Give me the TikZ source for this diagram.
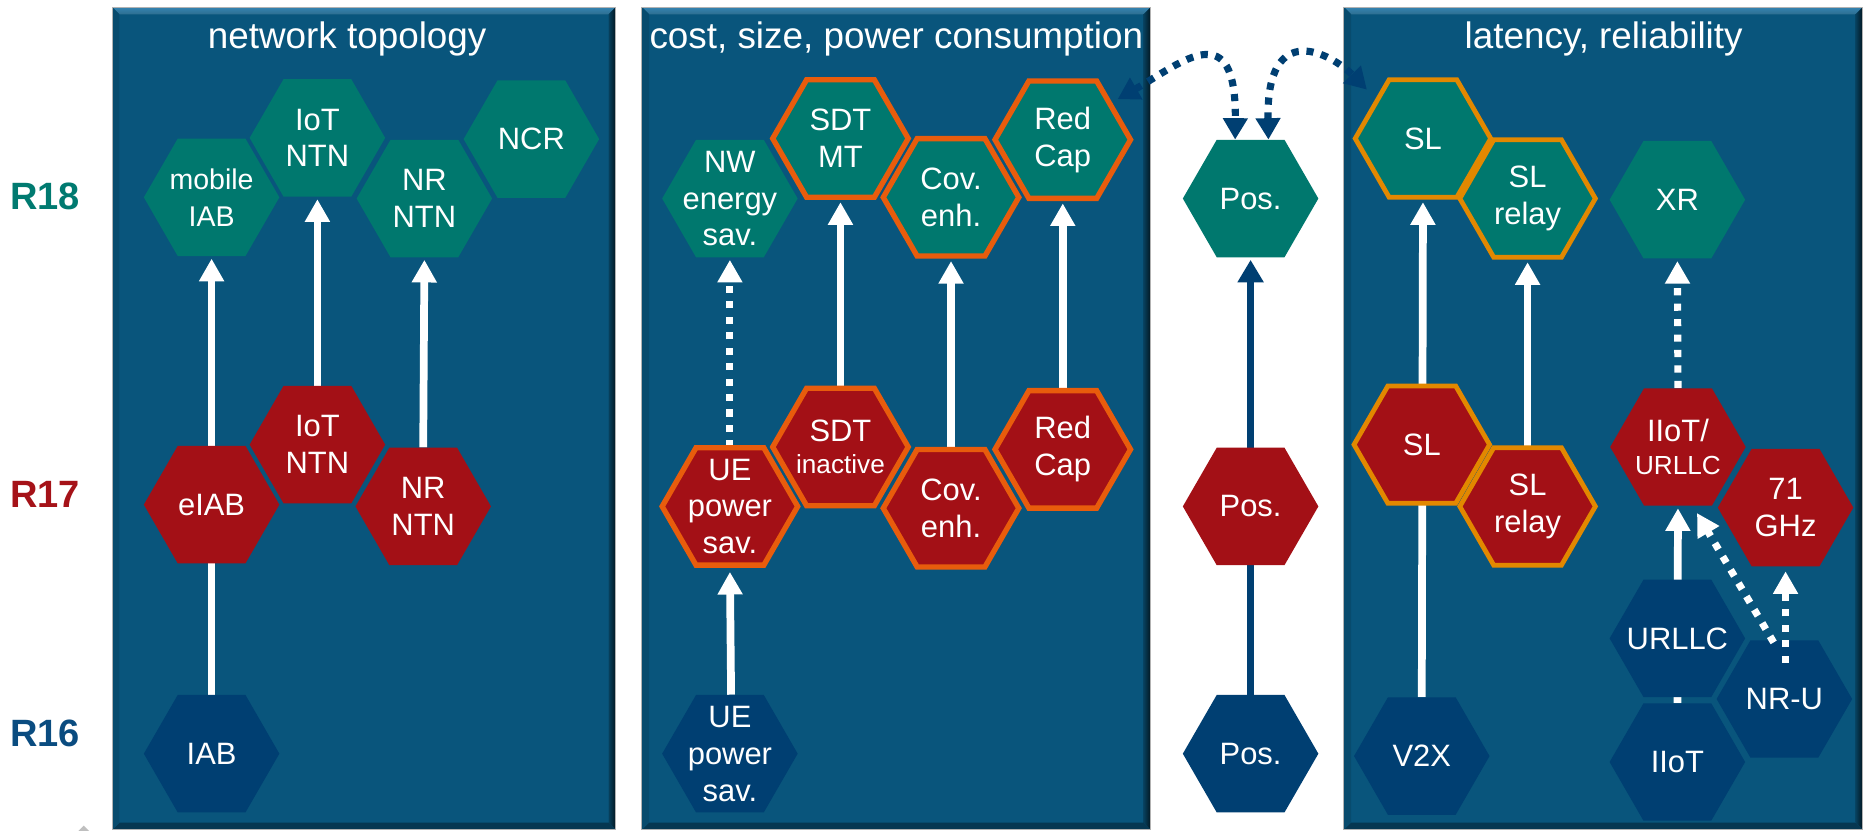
\documentclass[tikz,border=0pt]{standalone}
\usepackage{fontspec}
\setmainfont{Liberation Sans}
\usetikzlibrary{arrows.meta,calc}
\pgfdeclarelayer{panels}
\pgfdeclarelayer{links}
\pgfdeclarelayer{hexes}
\pgfsetlayers{panels,links,hexes,main}

\definecolor{panelblue}{RGB}{9,85,124}
\definecolor{panelhi}{RGB}{52,132,178}
\definecolor{hexteal}{RGB}{0,120,110}
\definecolor{hexred}{RGB}{163,16,22}
\definecolor{hexblue}{RGB}{0,63,114}
\definecolor{rimorange}{RGB}{232,92,12}
\definecolor{rimamber}{RGB}{226,136,0}
\definecolor{labteal}{RGB}{0,122,112}
\definecolor{labred}{RGB}{165,18,24}
\definecolor{labblue}{RGB}{10,76,128}

\tikzset{
  hexbox/.style={rectangle, minimum width=114pt, minimum height=98.8pt, inner sep=0pt,
    text=white, align=center, font=\fontsize{26}{31}\selectfont},
  r18/.style={fill=hexteal},
  r17/.style={fill=hexred},
  r16/.style={fill=hexblue},
  orim/.style={draw=rimorange, line width=4.5pt},
  arim/.style={draw=rimamber, line width=4pt},
  wline/.style={draw=white, line width=6.5pt, -{Triangle[width=20pt,length=19pt]}},
  wdots/.style={draw=white, line width=6pt, dash pattern=on 6pt off 7pt,
    -{Triangle[width=20pt,length=19pt]}},
  bline/.style={draw=hexblue, line width=5.5pt, -{Triangle[width=21pt,length=19pt]}},
  bdots/.style={draw=hexblue, line width=6pt, dash pattern=on 6pt off 6.5pt,
    {Triangle[width=20pt,length=18pt]}-{Triangle[width=20pt,length=18pt]}},
  ptitle/.style={text=white, anchor=base, font=\fontsize{31}{36}\selectfont},
  rlabel/.style={font=\bfseries\fontsize{32}{38}\selectfont},
}

% bevelled panel: x0 y0 x1 y1
\newcommand\panelbox[4]{%
  \fill[panelblue] (#1,#2) rectangle (#3,#4);
  \shade[top color=panelhi, bottom color=panelblue!85!white]
    (#1,#2) -- (#3,#2) -- (#3-6,#2+6) -- (#1+6,#2+6) -- cycle;
  \shade[left color=panelblue!75!black, right color=panelblue!25!black]
    (#3,#2) -- (#3,#4) -- (#3-6,#4-6) -- (#3-6,#2+6) -- cycle;
  \fill[panelblue!65!black] (#1,#4) -- (#3,#4) -- (#3-6,#4-6) -- (#1+6,#4-6) -- cycle;
  \fill[panelblue!88!black] (#1,#2) -- (#1+6,#2+6) -- (#1+6,#4-6) -- (#1,#4) -- cycle;
  \draw[black!30, line width=0.8pt] (#1,#2) rectangle (#3,#4);
}

% hexagon node: [node options]{name}{x}{y}{hexagon style}{label}
\newcommand\hexat[6][]{%
  \node[hexbox,#1] (#2) at (#3,#4) {#6};
  \begin{pgfonlayer}{hexes}
    \path[#5] (#3-57,#4) -- (#3-28.5,#4-49.4) -- (#3+28.5,#4-49.4) -- (#3+57,#4)
      -- (#3+28.5,#4+49.4) -- (#3-28.5,#4+49.4) -- cycle;
  \end{pgfonlayer}}

\begin{document}
\begin{tikzpicture}[x=1pt, y=-1pt]
\useasboundingbox (0,0) rectangle (1568,699);

\begin{pgfonlayer}{panels}
  \fill[white] (0,0) rectangle (1568,699);
  \panelbox{94.5}{6}{518}{698}
  \panelbox{540}{6}{968}{698}
  \panelbox{1130.5}{6}{1567}{698}
  \fill[black!25] (66,699) -- (70.5,694.5) -- (75,699) -- cycle;
\end{pgfonlayer}

% panel titles
\node[ptitle] (t1) at (292,41) {network topology};
\node[ptitle] (t2) at (754,41) {cost, size, power consumption};
\node[ptitle] (t3) at (1349,41) {latency, reliability};

% release labels
\node[rlabel, text=labteal] (r18) at (38,165.5) {R18};
\node[rlabel, text=labred]  (r17) at (38,416) {R17};
\node[rlabel, text=labblue] (r16) at (38,617) {R16};

% network topology
\hexat[font=\fontsize{24}{31}\selectfont]{mIAB}{178}{166}{r18}{mobile\\IAB}
\hexat{IoT18}{267}{116}{r18}{IoT\\NTN}
\hexat{NR18}{357}{167}{r18}{NR\\NTN}
\hexat{NCR}{447}{117}{r18}{NCR}
\hexat{eIAB}{178}{424.5}{r17}{eIAB}
\hexat{IoT17}{267}{374}{r17}{IoT\\NTN}
\hexat{NR17}{356}{426}{r17}{NR\\NTN}
\hexat{IAB}{178}{634}{r16}{IAB}

% cost, size, power consumption
\hexat{NWE}{614}{167}{r18}{NW\\energy\\sav.}
\hexat{SDT18}{707}{116.5}{r18,orim}{SDT\\MT}
\hexat{COV18}{800}{166}{r18,orim}{Cov.\\enh.}
\hexat{RC18}{894}{117.5}{r18,orim}{Red\\Cap}
\hexat{UE17}{614}{426}{r17,orim}{UE\\power\\sav.}
\hexat{SDT17}{707}{376}{r17,orim}{SDT\\[-4pt]{\fontsize{22}{26}\selectfont inactive}}
\hexat{COV17}{800}{427.5}{r17,orim}{Cov.\\enh.}
\hexat{RC17}{894}{378}{r17,orim}{Red\\Cap}
\hexat{UE16}{614}{634}{r16}{UE\\power\\sav.}

% positioning
\hexat{POS18}{1052}{167}{r18}{Pos.}
\hexat{POS17}{1052}{426}{r17}{Pos.}
\hexat{POS16}{1052}{634}{r16}{Pos.}

% latency, reliability
\hexat{SL18}{1197}{116.5}{r18,arim}{SL}
\hexat{SLR18}{1285}{167}{r18,arim}{SL\\relay}
\hexat{XR}{1411}{168}{r18}{XR}
\hexat{SL17}{1196}{374}{r17,arim}{SL}
\hexat{SLR17}{1285}{426}{r17,arim}{SL\\relay}
\hexat{IIU}{1411.5}{376}{r17}{IIoT/\\[-3pt]{\fontsize{22}{26}\selectfont URLLC}}
\hexat{GHZ}{1502}{427}{r17}{71\\GHz}
\hexat{URL}{1411}{537}{r16}{URLLC}
\hexat{NRU}{1501}{588}{r16}{NR-U}
\hexat{IIOT}{1411}{641}{r16}{IIoT}
\hexat{V2X}{1196}{636}{r16}{V2X}

\begin{pgfonlayer}{links}
  \draw[wline] (IAB.north) -- ([yshift=-2]mIAB.south);
  \draw[wline] (IoT17.north) -- ([yshift=-2]IoT18.south);
  \draw[wline] (NR17.north) -- ([yshift=-2]NR18.south);
  \draw[wdots] (UE17.north) -- ([yshift=-2]NWE.south);
  \draw[wline] ([xshift=1]UE16.north) -- ([yshift=-5.5]UE17.south);
  \draw[wline] (SDT17.north) -- ([yshift=-4]SDT18.south);
  \draw[wline] (COV17.north) -- ([yshift=-4]COV18.south);
  \draw[wline] (RC17.north) -- ([yshift=-4]RC18.south);
  \draw[bline] (POS16.north) -- ([yshift=-2]POS18.south);
  \draw[wline] (V2X.north) -- ([yshift=-4]SL18.south);
  \draw[wline] (SLR17.north) -- ([yshift=-4]SLR18.south);
  \draw[wdots] (IIU.north) -- ([yshift=-2]XR.south);
  \draw[wline] (IIOT.north) -- ([yshift=-2]IIU.south);
  \draw[bdots] ([shift={(-11,15.5)}]RC18.north east) .. controls (995,52) and (1040,12) .. ([xshift=-13]POS18.north);
  \draw[bdots] ([xshift=15]POS18.north) .. controls (1065,15) and (1120,45) .. ([shift={(10,8.5)}]SL18.north west);
\end{pgfonlayer}

% dotted links starting on top of NR-U
\draw[wdots] ([shift={(-9,2)}]NRU.north) -- ([shift={(16,6)}]IIU.south);
\draw[wdots] ([shift={(1,19)}]NRU.north) -- ([shift={(0,4)}]GHZ.south);
\end{tikzpicture}
\end{document}
